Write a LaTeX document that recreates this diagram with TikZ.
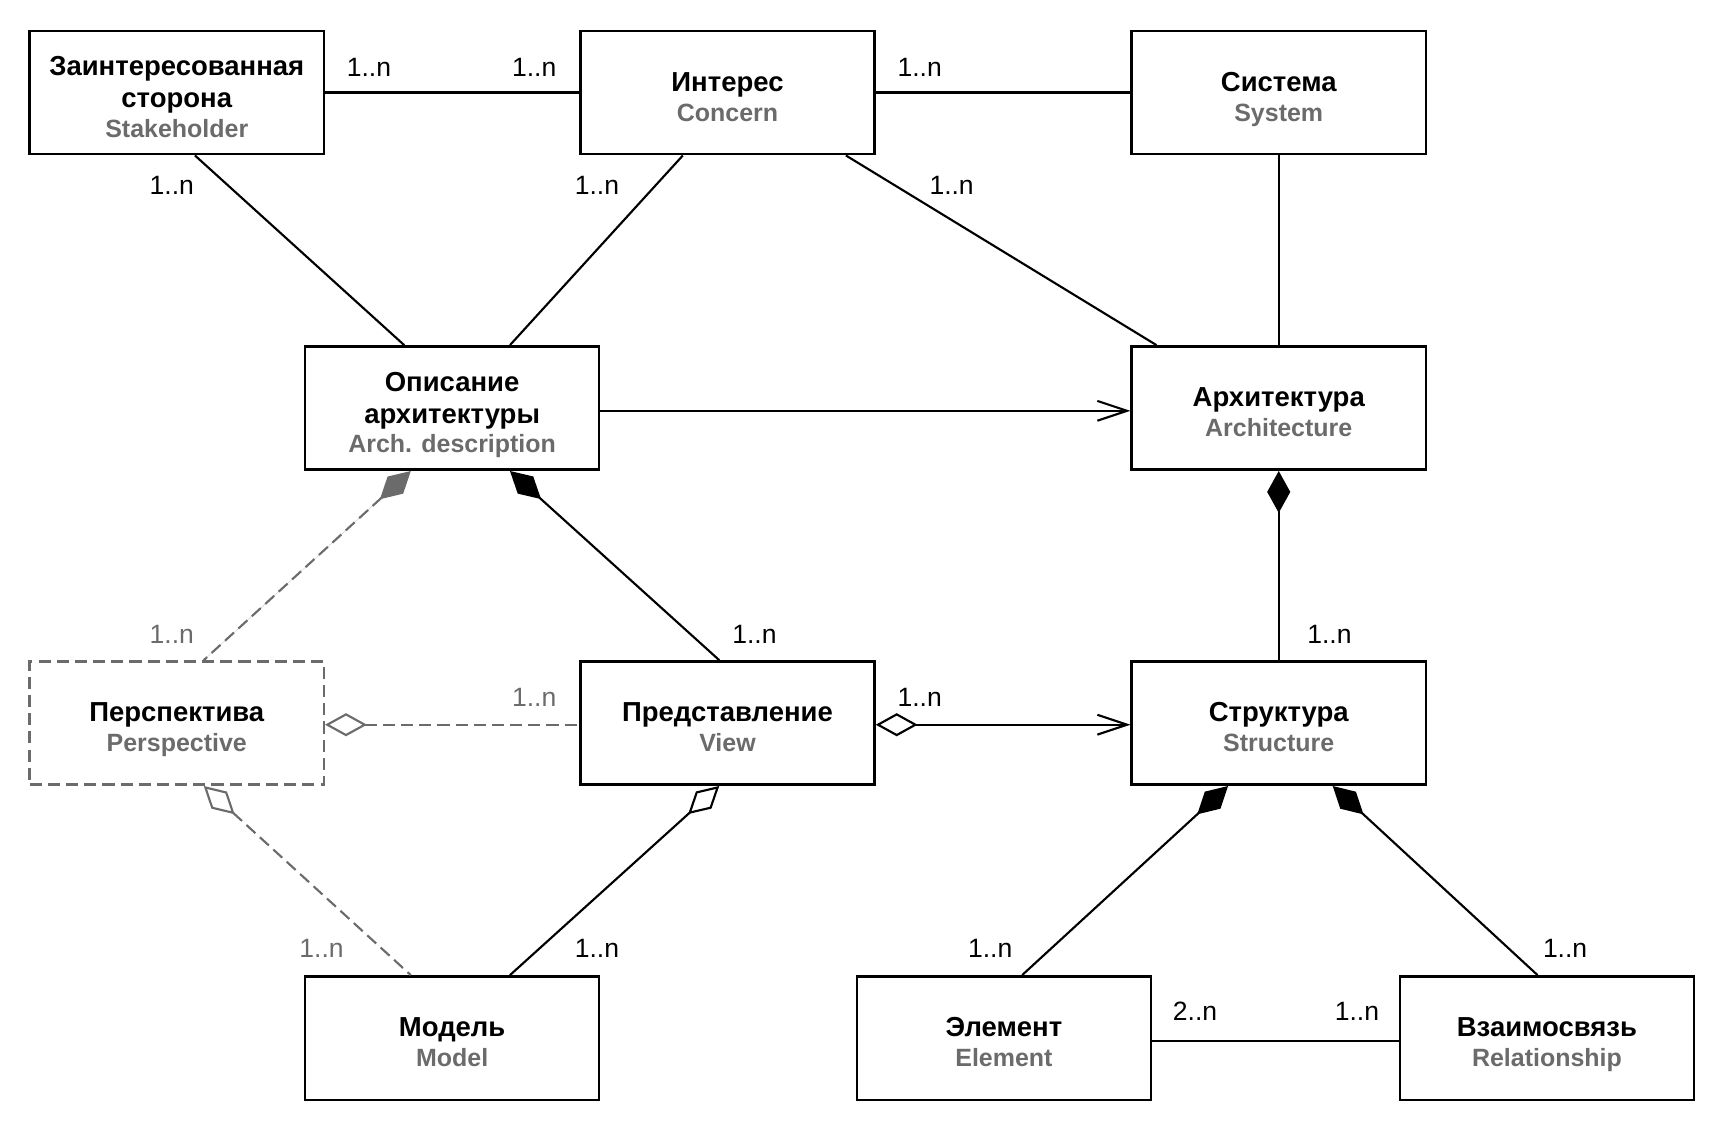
\documentclass[tikz,border=0pt]{standalone}
\usepackage{fontspec}
\setmainfont{Liberation Sans}
\usetikzlibrary{arrows.meta}
\definecolor{engray}{rgb}{0.42,0.42,0.42}
\newcommand{\toprl}{\rule{0pt}{17pt}}
\newcommand{\engl}[1]{{\fontsize{12.9}{15.5}\selectfont\textcolor{engray}{#1}\rule[-3pt]{0pt}{0pt}}}
\tikzset{
  cls/.style={draw, line width=1.3pt, minimum width=53.4mm, minimum height=22.4mm, inner sep=0pt,
    align=center, font=\fontsize{14.2}{16.5}\selectfont\bfseries},
  clsdash/.style={cls, draw=engray, dash pattern=on 2.2mm off 1.1mm},
  mult/.style={font=\fontsize{13.7}{16}\selectfont},
  multg/.style={mult, text=engray},
  assoc/.style={line width=1.1pt},
  dep/.style={assoc, draw=engray, dash pattern=on 2.2mm off 1.1mm},
  compo/.style={{Diamond[length=7.6mm,width=4.2mm]}-},
  aggr/.style={{Diamond[open,length=7.6mm,width=4.2mm]}-},
  nav/.style={-{Straight Barb[length=5.4mm,width=3.6mm]}},
  aggrnav/.style={{Diamond[open,length=7.6mm,width=4.2mm]}-{Straight Barb[length=5.4mm,width=3.6mm]}}
}
\begin{document}
\begin{tikzpicture}[x=0.2mm,y=-0.2mm]
\useasboundingbox (0,0) rectangle (1568,1028);
% classes
\node[cls] (stakeholder) at (160.5,84) {\toprl Заинтересованная\\сторона\\[-1pt]\engl{Stakeholder}};
\node[cls] (concern) at (660.5,84) {\toprl Интерес\\[-1pt]\engl{Concern}};
\node[cls] (system) at (1161,84) {\toprl Система\\[-1pt]\engl{System}};
\node[cls] (archdesc) at (410.5,370.5) {\toprl Описание\\архитектуры\\[-1.5pt]\engl{Arch. description}};
\node[cls] (arch) at (1161,370.5) {\toprl Архитектура\\[-1pt]\engl{Architecture}};
\node[clsdash] (persp) at (160.5,656.5) {\toprl Перспектива\\[-1pt]\engl{Perspective}};
\node[cls] (view) at (660.5,656.5) {\toprl Представление\\[-1pt]\engl{View}};
\node[cls] (struct) at (1161,656.5) {\toprl Структура\\[-1pt]\engl{Structure}};
\node[cls] (model) at (410.5,942.5) {\toprl Модель\\[-1pt]\engl{Model}};
\node[cls] (element) at (911.5,942.5) {\toprl Элемент\\[-1pt]\engl{Element}};
\node[cls] (rel) at (1404.5,942.5) {\toprl Взаимосвязь\\[-1pt]\engl{Relationship}};
% associations
\draw[assoc] (stakeholder) -- (concern);
\draw[assoc] (concern) -- (system);
\draw[assoc] ([xshift=3.3mm]stakeholder.south) -- ([xshift=-8.7mm]archdesc.north);
\draw[assoc] ([xshift=-8.1mm]concern.south) -- ([xshift=10.5mm]archdesc.north);
\draw[assoc] ([xshift=21.5mm]concern.south) -- ([xshift=-22.2mm]arch.north);
\draw[assoc] (system.south) -- (arch.north);
\draw[assoc,nav] ([yshift=-0.5mm]archdesc.east) -- ([yshift=-0.5mm]arch.west);
\draw[assoc,compo] (arch.south) -- (struct.north);
\draw[assoc,compo] ([xshift=10.5mm]archdesc.south) -- ([xshift=-1.5mm]view.north);
\draw[dep,compo,fill=engray] ([xshift=-7.5mm]archdesc.south) -- ([xshift=4.9mm]persp.north);
\draw[dep,aggr] ([yshift=-0.3mm]persp.east) -- ([yshift=-0.3mm]view.west);
\draw[assoc,aggrnav] ([yshift=-0.3mm]view.east) -- ([yshift=-0.3mm]struct.west);
\draw[dep,aggr] ([xshift=4.9mm]persp.south) -- ([xshift=-7.5mm]model.north);
\draw[assoc,aggr] ([xshift=-1.5mm]view.south) -- ([xshift=10.5mm]model.north);
\draw[assoc,compo] ([xshift=-9.2mm]struct.south) -- ([xshift=3.3mm]element.north);
\draw[assoc,compo] ([xshift=9.8mm]struct.south) -- ([xshift=-1.7mm]rel.north);
\draw[assoc] ([yshift=-0.5mm]element.east) -- ([yshift=-0.5mm]rel.west);
% multiplicities
\node[mult] (m1) at (335,61) {1..n};
\node[mult] (m2) at (485,61) {1..n};
\node[mult] (m3) at (835,61) {1..n};
\node[mult] (m4) at (156,168) {1..n};
\node[mult] (m5) at (542,168) {1..n};
\node[mult] (m6) at (864,168) {1..n};
\node[multg] (m7) at (156,576) {1..n};
\node[mult] (m8) at (685,576) {1..n};
\node[mult] (m9) at (1207,576) {1..n};
\node[multg] (m10) at (485,633) {1..n};
\node[mult] (m11) at (835,633) {1..n};
\node[multg] (m12) at (292,861) {1..n};
\node[mult] (m13) at (542,861) {1..n};
\node[mult] (m14) at (899,861) {1..n};
\node[mult] (m15) at (1421,861) {1..n};
\node[mult] (m16) at (1085,918) {2..n};
\node[mult] (m17) at (1232,918) {1..n};
\end{tikzpicture}
\end{document}
